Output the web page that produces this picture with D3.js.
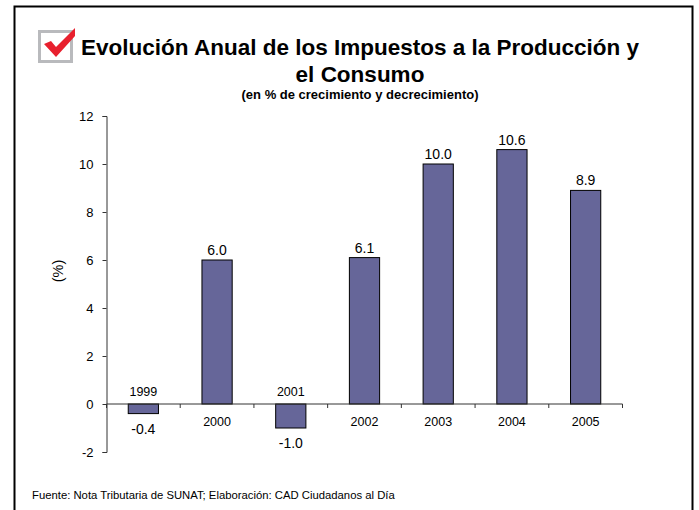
<!DOCTYPE html>
<html>
<head>
<meta charset="utf-8">
<script src="https://cdn.jsdelivr.net/npm/d3@7"></script>
<style>
  html, body { margin: 0; padding: 0; background: #fff; }
  svg { display: block; }
  text { font-family: "Liberation Sans", Arial, sans-serif; fill: #000; }
</style>
</head>
<body>
<svg id="chart" width="699" height="510"></svg>
<script>
const years = ['1999', '2000', '2001', '2002', '2003', '2004', '2005'];
const growth = [-0.4, 6.0, -1.0, 6.1, 10.0, 10.6, 8.9];
const yTicks = [-2, 0, 2, 4, 6, 8, 10, 12];

const titleLines = ['Evolución Anual de los Impuestos a la Producción y', 'el Consumo'];
const subtitle = '(en % de crecimiento y decrecimiento)';
const source = 'Fuente: Nota Tributaria de SUNAT; Elaboración: CAD Ciudadanos al Día';

const svg = d3.select('#chart');

// outer frame, runs off the bottom of the picture
svg.append('rect')
    .attr('x', 14.5).attr('y', 6.5)
    .attr('width', 678).attr('height', 520)
    .attr('fill', 'none').attr('stroke', '#000').attr('stroke-width', 2);

// check box icon
svg.append('rect')
    .attr('x', 39.5).attr('y', 31.5)
    .attr('width', 32).attr('height', 30)
    .attr('fill', 'none').attr('stroke', '#b9babd').attr('stroke-width', 3);
svg.append('path')
    .attr('d', 'M44 44 L51 41 L56 47 L75 28 L75 36 L56 57 Z')
    .attr('fill', '#e8202e');

// titles
svg.append('g').selectAll('text')
    .data(titleLines)
    .join('text')
    .attr('x', 360)
    .attr('y', (d, i) => 55 + i * 27)
    .attr('text-anchor', 'middle')
    .attr('font-size', 22.5)
    .attr('font-weight', 'bold')
    .text(d => d);

svg.append('text')
    .attr('x', 360).attr('y', 99)
    .attr('text-anchor', 'middle')
    .attr('font-size', 13)
    .attr('font-weight', 'bold')
    .text(subtitle);

const x = d3.scaleBand()
    .domain(years)
    .range([106.5, 622.5])
    .paddingInner(0.59)
    .paddingOuter(0.295);

const y = d3.scaleLinear()
    .domain([-2, 12])
    .range([452, 116]);

// bars
svg.append('g').selectAll('rect')
    .data(growth)
    .join('rect')
    .attr('x', (d, i) => x(years[i]))
    .attr('y', d => y(Math.max(0, d)))
    .attr('width', x.bandwidth())
    .attr('height', d => Math.abs(y(d) - y(0)))
    .attr('fill', '#666699')
    .attr('stroke', '#000')
    .attr('stroke-width', 1);

// y axis
const yAxis = d3.axisLeft(y)
    .tickValues(yTicks)
    .tickSize(4)
    .tickPadding(9)
    .tickFormat(d => String(d));

const yG = svg.append('g')
    .attr('transform', 'translate(106.5,0)')
    .call(yAxis);
yG.selectAll('text').attr('font-size', 13).attr('font-family', '"Liberation Sans", Arial, sans-serif');
yG.selectAll('line, path').attr('stroke', '#333');

// x axis line with ticks between the categories
const edgeTicks = years.map(d => x(d) - x.step() * 0.295).concat([622.5]);
const xLine = svg.append('g').attr('transform', 'translate(0,' + y(0) + ')');
xLine.append('line')
    .attr('x1', 106.5).attr('x2', 622.5)
    .attr('stroke', '#333');
xLine.selectAll('.tick')
    .data(edgeTicks)
    .join('line')
    .attr('class', 'tick')
    .attr('x1', d => d).attr('x2', d => d)
    .attr('y1', 0).attr('y2', 4)
    .attr('stroke', '#333');

// category labels, above the axis for the negative bars
svg.append('g').selectAll('text')
    .data(years)
    .join('text')
    .attr('x', d => x(d) + x.bandwidth() / 2)
    .attr('y', (d, i) => growth[i] < 0 ? y(0) - 8 : y(0) + 22)
    .attr('text-anchor', 'middle')
    .attr('font-size', 12.5)
    .text(d => d);

// value labels
svg.append('g').selectAll('text')
    .data(growth)
    .join('text')
    .attr('x', (d, i) => x(years[i]) + x.bandwidth() / 2)
    .attr('y', d => d < 0 ? y(d) + 20 : y(d) - 5)
    .attr('text-anchor', 'middle')
    .attr('font-size', 14)
    .text(d => d.toFixed(1));

// y axis title
svg.append('text')
    .attr('transform', 'translate(63,271) rotate(-90)')
    .attr('text-anchor', 'middle')
    .attr('font-size', 14.5)
    .text('(%)');

svg.append('text')
    .attr('x', 32).attr('y', 499)
    .attr('font-size', 11.3)
    .attr('fill', '#222')
    .text(source);
</script>
</body>
</html>
